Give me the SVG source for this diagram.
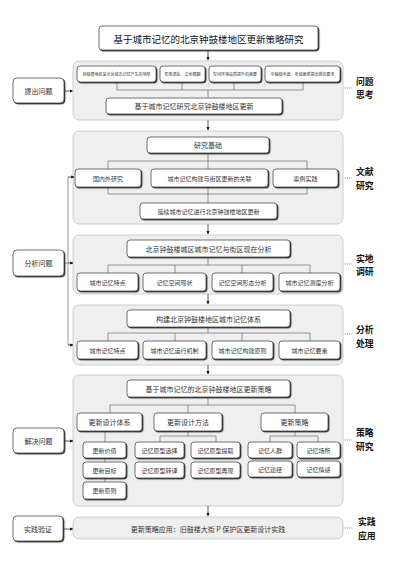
<svg xmlns="http://www.w3.org/2000/svg" width="400" height="566" viewBox="0 0 400 566">
<defs>
<filter id="sh" x="-10%" y="-20%" width="130%" height="160%">
<feDropShadow dx="1.1" dy="1.1" stdDeviation="0.3" flood-color="#222" flood-opacity="0.9"/>
</filter>
<marker id="ar" viewBox="0 0 6 6" refX="5.5" refY="3" markerWidth="4.5" markerHeight="4.5" orient="auto">
<path d="M0,0 L6,3 L0,6 Z" fill="#111"/>
</marker>
</defs>
<style>
.panel{fill:#efefef;stroke:#c4c4c4;stroke-width:0.8}
.bx{fill:#fff;stroke:#333;stroke-width:0.7;filter:url(#sh)}
.ln{fill:none;stroke:#555;stroke-width:0.6}
.arr{fill:none;stroke:#111;stroke-width:0.7;marker-end:url(#ar)}
.dot{fill:none;stroke:#555;stroke-width:0.8;stroke-dasharray:1 1.2}
text{font-family:"Noto Sans CJK SC","Noto Sans",sans-serif;text-anchor:middle;dominant-baseline:central;fill:#333}
.t{font-size:9.5px;fill:#111}
.m{font-size:7px}
.s{font-size:6px}
.xs{font-size:4px}
.lab{font-size:8.8px;font-weight:bold;fill:#111;text-anchor:start}
</style>

<g id="panels">
<rect class="panel" x="73" y="61" width="270" height="59" rx="6"/>
<rect class="panel" x="73" y="131" width="270" height="93" rx="6"/>
<rect class="panel" x="73" y="235" width="270" height="59" rx="6"/>
<rect class="panel" x="73" y="305" width="270" height="60" rx="6"/>
<rect class="panel" x="73" y="375" width="270" height="131" rx="6"/>
</g>

<g id="connectors">
<line class="arr" x1="208" y1="50" x2="208" y2="60"/>
<path class="ln" d="M117,82 V90 M182,82 V90 M234,82 V90 M303,82 V90 M117,90 H303 M208,90 V98"/>
<line class="arr" x1="208" y1="120" x2="208" y2="130"/>
<path class="ln" d="M108,161 H307 V194 H108 Z M208,153 V203"/>
<line class="arr" x1="208" y1="224" x2="208" y2="234"/>
<path class="ln" d="M208,257 V265 M108,265 H310 M108,265 V273 M175,265 V273 M242,265 V273 M310,265 V273"/>
<line class="arr" x1="208" y1="294" x2="208" y2="304"/>
<path class="ln" d="M208,327 V333 M108,333 H310 M108,333 V341 M175,333 V341 M242,333 V341 M310,333 V341"/>
<line class="arr" x1="208" y1="365" x2="208" y2="374"/>
<path class="ln" d="M208,397 V405 M110,405 H295 M110,405 V413 M188,405 V413 M295,405 V413"/>
<path class="ln" d="M105,431 V482 M188,431 V436 M160,436 H216 M160,436 V442 M216,436 V442 M295,431 V436 M270,436 H318 M270,436 V442 M318,436 V442"/>
<line class="arr" x1="208" y1="506" x2="208" y2="516"/>
<line class="arr" x1="64" y1="91" x2="72.5" y2="91"/>
<path class="ln" d="M64,263 H68 M68,177 V345"/>
<line class="arr" x1="68" y1="177" x2="74" y2="177"/>
<line class="arr" x1="68" y1="263" x2="73" y2="263"/>
<line class="arr" x1="68" y1="345" x2="73" y2="345"/>
<line class="arr" x1="64" y1="441" x2="73" y2="441"/>
<line class="arr" x1="64" y1="529" x2="73" y2="529"/>
<line class="dot" x1="345" y1="88" x2="352" y2="88"/>
<line class="dot" x1="345" y1="178" x2="352" y2="178"/>
<line class="dot" x1="345" y1="264" x2="352" y2="264"/>
<line class="dot" x1="345" y1="334" x2="352" y2="334"/>
<line class="dot" x1="345" y1="440" x2="352" y2="440"/>
<line class="dot" x1="345" y1="528" x2="352" y2="528"/>
</g>

<g id="title"><rect class="bx" x="99" y="26" width="219" height="24" rx="3"/><text class="t" x="208.5" y="38.5">基于城市记忆的北京钟鼓楼地区更新策略研究</text></g>

<g id="n-left1"><rect class="bx" x="13" y="78" width="51" height="25" rx="4"/><text class="m" x="38.5" y="90.5">提出问题</text></g>
<g id="n-left2"><rect class="bx" x="13" y="250" width="51" height="26" rx="4"/><text class="m" x="38.5" y="263">分析问题</text></g>
<g id="n-left3"><rect class="bx" x="13" y="428" width="51" height="25" rx="4"/><text class="m" x="38.5" y="440.5">解决问题</text></g>
<g id="n-left4"><rect class="bx" x="13" y="516" width="50" height="25" rx="4"/><text class="m" x="38" y="528.5">实践验证</text></g>

<g id="n-p1a"><rect class="bx" x="77" y="66" width="79" height="16" rx="3"/><text class="xs" x="116.5" y="74">钟鼓楼地区是北京城市记忆产生的场所</text></g>
<g id="n-p1b"><rect class="bx" x="160" y="66" width="45" height="16" rx="3"/><text class="xs" x="182.5" y="74">形象混乱、文化模糊</text></g>
<g id="n-p1c"><rect class="bx" x="209" y="66" width="52" height="16" rx="3"/><text class="xs" x="235" y="74">空间环境品质提升的需要</text></g>
<g id="n-p1d"><rect class="bx" x="265" y="66" width="75" height="16" rx="3"/><text class="xs" x="302.5" y="74">中轴线申遗、老城更新提出新的要求</text></g>
<g id="n-p1e"><rect class="bx" x="106" y="98" width="176" height="16" rx="3"/><text class="m" x="194" y="106">基于城市记忆研究北京钟鼓楼地区更新</text></g>

<g id="n-p2a"><rect class="bx" x="147" y="137" width="122" height="16" rx="3"/><text class="m" x="208" y="145">研究基础</text></g>
<g id="n-p2b"><rect class="bx" x="75" y="169" width="66" height="18" rx="3"/><text class="s" x="108" y="178">国内外研究</text></g>
<g id="n-p2c"><rect class="bx" x="151" y="169" width="117" height="18" rx="3"/><text class="s" x="209.5" y="178">城市记忆构建与街区更新的关联</text></g>
<g id="n-p2d"><rect class="bx" x="273" y="169" width="65" height="18" rx="3"/><text class="s" x="305.5" y="178">案例实践</text></g>
<g id="n-p2e"><rect class="bx" x="140" y="203" width="137" height="16" rx="3"/><text class="s" x="208.5" y="211">延续城市记忆进行北京钟鼓楼地区更新</text></g>

<g id="n-p3a"><rect class="bx" x="127" y="240" width="163" height="17" rx="3"/><text class="m" x="208.5" y="248.5">北京钟鼓楼城区城市记忆与街区现在分析</text></g>
<g id="n-p3b"><rect class="bx" x="77" y="273" width="61" height="18" rx="3"/><text class="s" x="107.5" y="282">城市记忆特点</text></g>
<g id="n-p3c"><rect class="bx" x="143" y="273" width="63" height="18" rx="3"/><text class="s" x="174.5" y="282">记忆空间现状</text></g>
<g id="n-p3d"><rect class="bx" x="212" y="273" width="61" height="18" rx="3"/><text class="s" x="242.5" y="282">记忆空间形态分析</text></g>
<g id="n-p3e"><rect class="bx" x="279" y="273" width="61" height="18" rx="3"/><text class="s" x="309.5" y="282">城市记忆测度分析</text></g>

<g id="n-p4a"><rect class="bx" x="127" y="310" width="163" height="17" rx="3"/><text class="m" x="208.5" y="318.5">构建北京钟鼓楼地区城市记忆体系</text></g>
<g id="n-p4b"><rect class="bx" x="77" y="341" width="61" height="18" rx="3"/><text class="s" x="107.5" y="350">城市记忆特点</text></g>
<g id="n-p4c"><rect class="bx" x="143" y="341" width="63" height="18" rx="3"/><text class="s" x="174.5" y="350">城市记忆运行机制</text></g>
<g id="n-p4d"><rect class="bx" x="212" y="341" width="61" height="18" rx="3"/><text class="s" x="242.5" y="350">城市记忆构建原则</text></g>
<g id="n-p4e"><rect class="bx" x="279" y="341" width="61" height="18" rx="3"/><text class="s" x="309.5" y="350">城市记忆要素</text></g>

<g id="n-p5a"><rect class="bx" x="127" y="380" width="163" height="17" rx="3"/><text class="m" x="208.5" y="388.5">基于城市记忆的北京钟鼓楼地区更新策略</text></g>
<g id="n-p5b"><rect class="bx" x="77" y="413" width="65" height="18" rx="3"/><text class="m" x="109.5" y="422">更新设计体系</text></g>
<g id="n-p5c"><rect class="bx" x="154" y="413" width="68" height="18" rx="3"/><text class="m" x="188" y="422">更新设计方法</text></g>
<g id="n-p5d"><rect class="bx" x="261" y="413" width="67" height="18" rx="3"/><text class="m" x="294.5" y="422">更新策略</text></g>
<g id="n-p5e"><rect class="bx" x="83" y="442" width="43" height="16" rx="3"/><text class="s" x="104.5" y="450">更新价值</text></g>
<g id="n-p5f"><rect class="bx" x="83" y="462" width="43" height="16" rx="3"/><text class="s" x="104.5" y="470">更新目标</text></g>
<g id="n-p5g"><rect class="bx" x="83" y="482" width="43" height="17" rx="3"/><text class="s" x="104.5" y="490.5">更新原则</text></g>
<g id="n-p5h"><rect class="bx" x="135" y="442" width="49" height="16" rx="3"/><text class="s" x="159.5" y="450">记忆原型选择</text></g>
<g id="n-p5i"><rect class="bx" x="191" y="442" width="49" height="16" rx="3"/><text class="s" x="215.5" y="450">记忆原型提取</text></g>
<g id="n-p5j"><rect class="bx" x="135" y="462" width="49" height="16" rx="3"/><text class="s" x="159.5" y="470">记忆原型转译</text></g>
<g id="n-p5k"><rect class="bx" x="191" y="462" width="49" height="16" rx="3"/><text class="s" x="215.5" y="470">记忆原型再现</text></g>
<g id="n-p5l"><rect class="bx" x="248" y="442" width="44" height="16" rx="3"/><text class="s" x="270" y="450">记忆人群</text></g>
<g id="n-p5m"><rect class="bx" x="297" y="442" width="43" height="16" rx="3"/><text class="s" x="318.5" y="450">记忆场所</text></g>
<g id="n-p5n"><rect class="bx" x="248" y="461" width="44" height="16" rx="3"/><text class="s" x="270" y="469">记忆途径</text></g>
<g id="n-p5o"><rect class="bx" x="297" y="461" width="43" height="16" rx="3"/><text class="s" x="318.5" y="469">记忆情感</text></g>

<g id="n-p6"><rect class="panel" x="73" y="517" width="270" height="22" rx="6"/><text class="m" x="208" y="528.5">更新策略应用：旧鼓楼大街 P 保护区更新设计实践</text></g>

<g id="labels">
<text class="lab" x="356" y="81">问题<tspan x="356" dy="13">思考</tspan></text>
<text class="lab" x="356" y="171.5">文献<tspan x="356" dy="13">研究</tspan></text>
<text class="lab" x="356" y="258">实地<tspan x="356" dy="13">调研</tspan></text>
<text class="lab" x="356" y="329.5">分析<tspan x="356" dy="13">处理</tspan></text>
<text class="lab" x="356" y="432.5">策略<tspan x="356" dy="13">研究</tspan></text>
<text class="lab" x="358" y="521.5">实践<tspan x="358" dy="13">应用</tspan></text>
</g>
</svg>
